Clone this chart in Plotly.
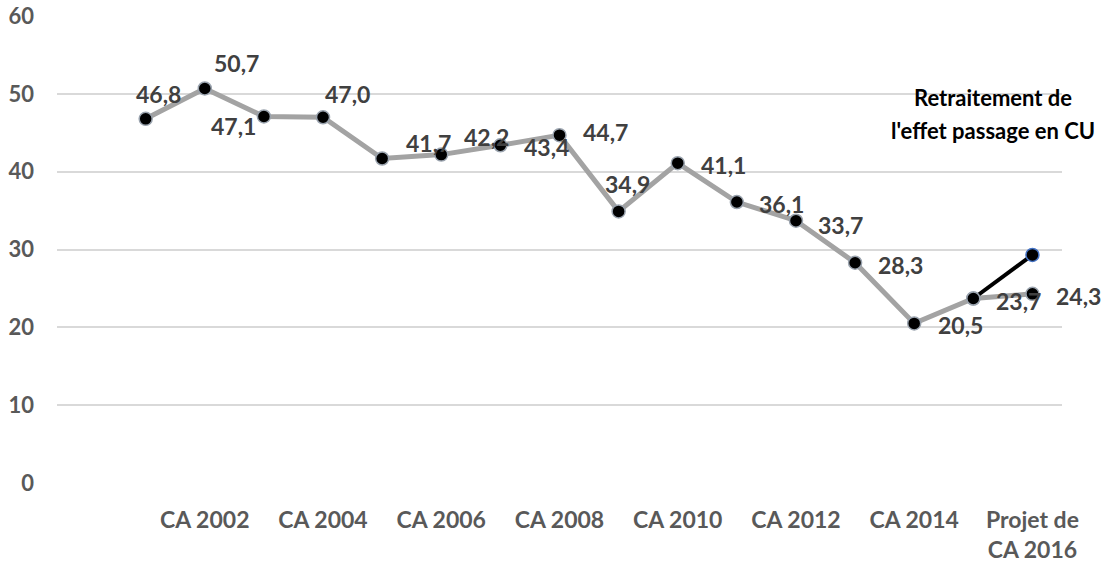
import plotly.graph_objects as go

# ---- data ----
categories = ["", "CA 2001", "CA 2002", "CA 2003", "CA 2004", "CA 2005", "CA 2006",
              "CA 2007", "CA 2008", "CA 2009", "CA 2010", "CA 2011", "CA 2012",
              "CA 2013", "CA 2014", "CA 2015", "Projet de<br>CA 2016"]
main_values = [None, 46.8, 50.7, 47.1, 47.0, 41.7, 42.2, 43.4, 44.7, 34.9, 41.1,
               36.1, 33.7, 28.3, 20.5, 23.7, 24.3]
retraitement_values = [None] * 15 + [23.7, 29.3]
retraitement_label = "Retraitement de<br>l'effet passage en CU"
y_ticks = [0, 10, 20, 30, 40, 50, 60]

# label placement (pixel offsets from each point: dx right, dy down)
label_offsets = [None, (13, -25), (32, -25), (-30, 10), (24, -23), (46, -16), (45, -18),
                 (46, 2), (46, -3), (9, -27), (46, 2), (45, 2), (45, 4), (45, 2),
                 (46, 2), (45, 2), (46, 2)]

x = list(range(len(categories)))
FONT = "Lato"

fig = go.Figure()
fig.add_trace(go.Scatter(
    x=x, y=main_values, mode="lines+markers",
    line=dict(color="#A3A3A3", width=5),
    marker=dict(color="black", size=13, line=dict(color="#9AA3AE", width=1.5)),
    cliponaxis=False, showlegend=False, hoverinfo="skip"))
fig.add_trace(go.Scatter(
    x=x, y=retraitement_values, mode="lines+markers",
    line=dict(color="black", width=4),
    marker=dict(color="black", size=13,
                line=dict(color=["#9AA3AE"] * 16 + ["#4472C4"], width=1.5)),
    cliponaxis=False, showlegend=False, hoverinfo="skip"))

annotations = []
for xi, v, off in zip(x, main_values, label_offsets):
    if v is None:
        continue
    annotations.append(dict(
        x=xi, y=v, xref="x", yref="y", text=f"{v:.1f}".replace(".", ","),
        showarrow=False, xshift=off[0], yshift=-off[1],
        font=dict(family=FONT, size=23, color="#404040", weight="bold")))

lines = retraitement_label.split("<br>")
for i, t in enumerate(lines):
    annotations.append(dict(
        x=0.931, y=0.826 - i * 0.0707, xref="paper", yref="paper", text=t,
        showarrow=False, xanchor="center", yanchor="middle",
        font=dict(family=FONT, size=22, color="black", weight="bold")))

fig.update_layout(
    width=1113, height=565,
    margin=dict(l=57, r=51, t=16, b=82),
    paper_bgcolor="white", plot_bgcolor="white",
    annotations=annotations,
    xaxis=dict(
        range=[-0.5, len(categories) - 0.5], automargin=False,
        tickvals=x[2::2], ticktext=categories[2::2],
        showgrid=False, zeroline=False, showline=False,
        ticks="", ticklabelstandoff=21,
        tickfont=dict(family=FONT, size=23, color="#595959", weight="bold")),
    yaxis=dict(
        range=[-0.02, 60.02], tickvals=y_ticks, automargin=False,
        showgrid=True, gridcolor="#D9D9D9", gridwidth=2,
        zeroline=False, showline=False, ticks="", ticklabelstandoff=22,
        tickfont=dict(family=FONT, size=22, color="#595959", weight="bold")),
)

fig.write_html("out.html")
